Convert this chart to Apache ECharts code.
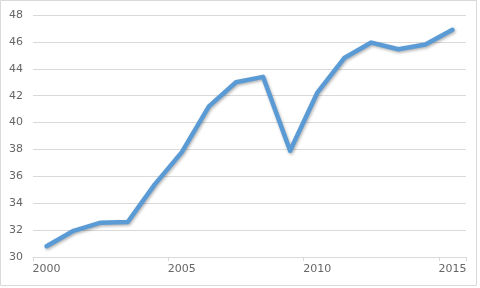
<!DOCTYPE html>
<html><head><meta charset="utf-8">
<script src="https://cdn.jsdelivr.net/npm/echarts@6/dist/echarts.min.js"></script>
<style>html,body{margin:0;padding:0;background:#fff}#c{width:480px;height:288px}</style>
</head><body><div id="c"></div>
<script>
const years = ['2000','2001','2002','2003','2004','2005','2006','2007','2008','2009','2010','2011','2012','2013','2014','2015'];
const values = [30.8, 31.95, 32.55, 32.6, 35.4, 37.8, 41.2, 43.0, 43.4, 37.9, 42.2, 44.8, 45.95, 45.45, 45.8, 46.9];
const yTicks = {min: 30, max: 48, interval: 2};

const chart = echarts.init(document.getElementById('c'), null, {renderer: 'canvas'});
chart.setOption({
  animation: false,
  backgroundColor: '#fff',
  graphic: [{type: 'rect', shape: {x: 0.5, y: 0.5, width: 476, height: 285}, style: {fill: 'none', stroke: '#d9d9d9', lineWidth: 1}}],
  grid: {left: 33, right: 14, top: 15, bottom: 31},
  xAxis: {
    type: 'category', data: years, boundaryGap: true,
    axisLine: {lineStyle: {color: '#d9d9d9'}},
    axisTick: {show: true, interval: 4, length: 4, lineStyle: {color: '#d9d9d9'}},
    axisLabel: {interval: 4, color: '#666666', fontSize: 11, fontFamily: 'DejaVu Sans', margin: 7}
  },
  yAxis: {
    type: 'value', min: yTicks.min, max: yTicks.max, interval: yTicks.interval,
    axisLine: {show: false}, axisTick: {show: false},
    splitLine: {lineStyle: {color: '#d9d9d9'}},
    axisLabel: {color: '#666666', fontSize: 11, fontFamily: 'DejaVu Sans', margin: 10}
  },
  series: [{
    type: 'line', data: values, symbol: 'none',
    lineStyle: {color: '#5b9bd5', width: 4.5, cap: 'round', join: 'round',
      shadowColor: 'rgba(0,0,0,0.3)', shadowBlur: 3, shadowOffsetX: 1, shadowOffsetY: 1.5}
  }]
});
</script></body></html>
